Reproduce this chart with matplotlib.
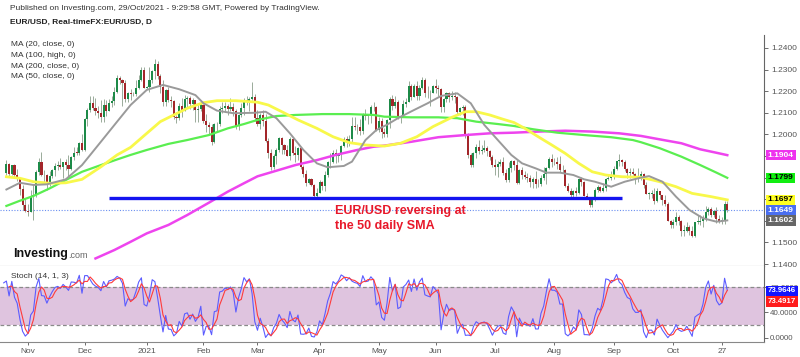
import numpy as np
import pandas as pd
import matplotlib
matplotlib.use("Agg")
import matplotlib.pyplot as plt
from matplotlib.transforms import blended_transform_factory

plt.rcParams['font.family'] = ['Liberation Sans', 'DejaVu Sans']

# daily EUR/USD bars, first bar 21 Oct 2020, one row per week
first_day = "2020-10-21"
first_open = 1.1820
closes = [
    1.1861, 1.1816, 1.1860,
    1.1812, 1.1794, 1.1746, 1.1674, 1.1646,
    1.1640, 1.1715, 1.1720, 1.1826, 1.1873,
    1.1814, 1.1812, 1.1776, 1.1808, 1.1834,
    1.1855, 1.1860, 1.1850, 1.1870, 1.1857,
    1.1840, 1.1895, 1.1916, 1.1915, 1.1962,
    1.1927, 1.2070, 1.2115, 1.2145, 1.2120,
    1.2107, 1.2100, 1.2080, 1.2135, 1.2110,
    1.2147, 1.2153, 1.2196, 1.2262, 1.2252,
    1.2240, 1.2165, 1.2190, 1.2185, 1.2188,
    1.2215, 1.2250, 1.2298, 1.2215, 1.2218,
    1.2250, 1.2295, 1.2324, 1.2269, 1.2220,
    1.2150, 1.2207, 1.2160, 1.2155, 1.2080,
    1.2075, 1.2130, 1.2107, 1.2165, 1.2170,
    1.2140, 1.2160, 1.2112, 1.2118, 1.2137,
    1.2060, 1.2042, 1.2035, 1.1963, 1.2047,
    1.2050, 1.2119, 1.2120, 1.2131, 1.2118,
    1.2126, 1.2107, 1.2040, 1.2090, 1.2120,
    1.2158, 1.2153, 1.2165, 1.2173, 1.2078,
    1.2048, 1.2090, 1.2060, 1.1968, 1.1915,
    1.1847, 1.1900, 1.1928, 1.1985, 1.1950,
    1.1930, 1.1900, 1.1980, 1.1914, 1.1905,
    1.1935, 1.1850, 1.1815, 1.1775, 1.1795,
    1.1765, 1.1715, 1.1730, 1.1780, 1.1763,
    1.1812, 1.1870, 1.1873, 1.1915, 1.1900,
    1.1910, 1.1947, 1.1980, 1.1965, 1.1980,
    1.2040, 1.2035, 1.2032, 1.2015, 1.2094,
    1.2085, 1.2090, 1.2125, 1.2125, 1.2020,
    1.2060, 1.2010, 1.2003, 1.2065, 1.2163,
    1.2130, 1.2150, 1.2075, 1.2080, 1.2142,
    1.2150, 1.2222, 1.2175, 1.2226, 1.2180,
    1.2215, 1.2250, 1.2190, 1.2193, 1.2190,
    1.2225, 1.2215, 1.2210, 1.2125, 1.2165,
    1.2190, 1.2174, 1.2178, 1.2175, 1.2105,
    1.2120, 1.2125, 1.1995, 1.1905, 1.1860,
    1.1915, 1.1940, 1.1925, 1.1930, 1.1935,
    1.1925, 1.1895, 1.1860, 1.1850, 1.1865,
    1.1870, 1.1820, 1.1790, 1.1845, 1.1875,
    1.1860, 1.1775, 1.1835, 1.1810, 1.1805,
    1.1800, 1.1780, 1.1795, 1.1770, 1.1770,
    1.1800, 1.1815, 1.1845, 1.1885, 1.1870,
    1.1870, 1.1865, 1.1835, 1.1835, 1.1760,
    1.1740, 1.1720, 1.1740, 1.1730, 1.1795,
    1.1780, 1.1715, 1.1710, 1.1675, 1.1700,
    1.1745, 1.1755, 1.1740, 1.1750, 1.1795,
    1.1798, 1.1808, 1.1838, 1.1875, 1.1880,
    1.1870, 1.1840, 1.1820, 1.1825, 1.1815,
    1.1805, 1.1805, 1.1815, 1.1765, 1.1725,
    1.1725, 1.1725, 1.1690, 1.1740, 1.1720,
    1.1695, 1.1680, 1.1600, 1.1580, 1.1595,
    1.1620, 1.1597, 1.1555, 1.1555, 1.1570,
    1.1553, 1.1530, 1.1595, 1.1595, 1.1600,
    1.1610, 1.1640, 1.1655, 1.1625, 1.1645,
    1.1610, 1.1600, 1.1605, 1.1680, 1.1649,
]
highs = [
    1.1881, 1.1869, 1.1860,
    1.1861, 1.1838, 1.1799, 1.1768, 1.1707,
    1.1678, 1.1745, 1.1770, 1.1835, 1.1892,
    1.1920, 1.1837, 1.1815, 1.1830, 1.1840,
    1.1868, 1.1875, 1.1890, 1.1870, 1.1887,
    1.1905, 1.1902, 1.1940, 1.1942, 1.1965,
    1.2004, 1.2076, 1.2121, 1.2176, 1.2177,
    1.2168, 1.2133, 1.2161, 1.2162, 1.2160,
    1.2162, 1.2178, 1.2219, 1.2273, 1.2271,
    1.2258, 1.2251, 1.2196, 1.2210, 1.2198,
    1.2250, 1.2276, 1.2310, 1.2310, 1.2225,
    1.2310, 1.2298, 1.2349, 1.2338, 1.2279,
    1.2251, 1.2209, 1.2221, 1.2179, 1.2159,
    1.2090, 1.2145, 1.2170, 1.2183, 1.2176,
    1.2180, 1.2169, 1.2159, 1.2140, 1.2155,
    1.2140, 1.2094, 1.2057, 1.2048, 1.2051,
    1.2057, 1.2130, 1.2150, 1.2149, 1.2143,
    1.2169, 1.2144, 1.2118, 1.2096, 1.2145,
    1.2169, 1.2180, 1.2171, 1.2243, 1.2185,
    1.2114, 1.2097, 1.2114, 1.2095, 1.1985,
    1.1932, 1.1909, 1.1936, 1.1990, 1.1988,
    1.1955, 1.1951, 1.1990, 1.1990, 1.1945,
    1.1942, 1.1935, 1.1858, 1.1836, 1.1800,
    1.1799, 1.1769, 1.1750, 1.1788, 1.1785,
    1.1830, 1.1876, 1.1915, 1.1928, 1.1933,
    1.1916, 1.1949, 1.1990, 1.1994, 1.1995,
    1.2080, 1.2079, 1.2048, 1.2070, 1.2100,
    1.2116, 1.2096, 1.2135, 1.2150, 1.2130,
    1.2080, 1.2077, 1.2030, 1.2070, 1.2172,
    1.2181, 1.2178, 1.2160, 1.2090, 1.2160,
    1.2167, 1.2245, 1.2234, 1.2232, 1.2245,
    1.2230, 1.2266, 1.2260, 1.2225, 1.2206,
    1.2230, 1.2255, 1.2230, 1.2215, 1.2170,
    1.2195, 1.2195, 1.2200, 1.2195, 1.2180,
    1.2125, 1.2135, 1.2135, 1.2005, 1.1915,
    1.1920, 1.1955, 1.1975, 1.1950, 1.1975,
    1.1945, 1.1930, 1.1905, 1.1885, 1.1875,
    1.1885, 1.1895, 1.1840, 1.1870, 1.1880,
    1.1880, 1.1880, 1.1840, 1.1850, 1.1830,
    1.1820, 1.1810, 1.1805, 1.1830, 1.1795,
    1.1810, 1.1850, 1.1850, 1.1895, 1.1910,
    1.1890, 1.1895, 1.1900, 1.1860, 1.1840,
    1.1775, 1.1750, 1.1745, 1.1755, 1.1800,
    1.1805, 1.1785, 1.1730, 1.1710, 1.1705,
    1.1750, 1.1765, 1.1760, 1.1775, 1.1800,
    1.1810, 1.1830, 1.1855, 1.1870, 1.1910,
    1.1885, 1.1880, 1.1845, 1.1845, 1.1845,
    1.1820, 1.1845, 1.1830, 1.1820, 1.1780,
    1.1735, 1.1745, 1.1750, 1.1750, 1.1735,
    1.1715, 1.1720, 1.1685, 1.1605, 1.1610,
    1.1640, 1.1625, 1.1605, 1.1580, 1.1595,
    1.1580, 1.1575, 1.1595, 1.1625, 1.1625,
    1.1625, 1.1670, 1.1665, 1.1665, 1.1650,
    1.1665, 1.1625, 1.1620, 1.1690, 1.1690,
]
lows = [
    1.1812, 1.1802, 1.1811,
    1.1802, 1.1784, 1.1718, 1.1651, 1.1640,
    1.1622, 1.1640, 1.1603, 1.1711, 1.1810,
    1.1808, 1.1777, 1.1745, 1.1760, 1.1800,
    1.1808, 1.1837, 1.1839, 1.1800, 1.1835,
    1.1801, 1.1835, 1.1880, 1.1905, 1.1904,
    1.1925, 1.1922, 1.2039, 1.2105, 1.2112,
    1.2092, 1.2074, 1.2057, 1.2059, 1.2085,
    1.2117, 1.2126, 1.2137, 1.2190, 1.2232,
    1.2130, 1.2150, 1.2152, 1.2160, 1.2180,
    1.2178, 1.2210, 1.2245, 1.2213, 1.2210,
    1.2194, 1.2240, 1.2256, 1.2255, 1.2191,
    1.2130, 1.2132, 1.2152, 1.2126, 1.2072,
    1.2054, 1.2068, 1.2081, 1.2106, 1.2127,
    1.2117, 1.2115, 1.2058, 1.2059, 1.2110,
    1.2053, 1.2011, 1.2003, 1.1952, 1.1960,
    1.2012, 1.2040, 1.2099, 1.2103, 1.2090,
    1.2107, 1.2086, 1.2023, 1.2022, 1.2080,
    1.2089, 1.2137, 1.2110, 1.2157, 1.2062,
    1.2040, 1.2023, 1.2040, 1.1967, 1.1893,
    1.1835, 1.1838, 1.1865, 1.1920, 1.1910,
    1.1910, 1.1900, 1.1880, 1.1903, 1.1873,
    1.1880, 1.1840, 1.1805, 1.1760, 1.1770,
    1.1763, 1.1712, 1.1704, 1.1730, 1.1742,
    1.1740, 1.1805, 1.1846, 1.1868, 1.1868,
    1.1870, 1.1880, 1.1943, 1.1944, 1.1947,
    1.1960, 1.2020, 1.2000, 1.1995, 1.2003,
    1.2065, 1.2050, 1.2055, 1.2107, 1.2018,
    1.2010, 1.1985, 1.1987, 1.1990, 1.2030,
    1.2113, 1.2120, 1.2070, 1.2052, 1.2080,
    1.2127, 1.2150, 1.2160, 1.2180, 1.2160,
    1.2160, 1.2210, 1.2175, 1.2170, 1.2133,
    1.2190, 1.2190, 1.2180, 1.2105, 1.2105,
    1.2150, 1.2150, 1.2160, 1.2145, 1.2093,
    1.2090, 1.2092, 1.1985, 1.1890, 1.1847,
    1.1850, 1.1890, 1.1910, 1.1910, 1.1920,
    1.1900, 1.1880, 1.1850, 1.1810, 1.1805,
    1.1855, 1.1810, 1.1780, 1.1780, 1.1825,
    1.1835, 1.1772, 1.1772, 1.1795, 1.1795,
    1.1780, 1.1755, 1.1752, 1.1750, 1.1755,
    1.1760, 1.1790, 1.1770, 1.1840, 1.1850,
    1.1860, 1.1840, 1.1825, 1.1820, 1.1755,
    1.1735, 1.1705, 1.1705, 1.1715, 1.1725,
    1.1760, 1.1715, 1.1700, 1.1665, 1.1664,
    1.1690, 1.1735, 1.1735, 1.1735, 1.1740,
    1.1790, 1.1790, 1.1795, 1.1835, 1.1855,
    1.1855, 1.1830, 1.1800, 1.1800, 1.1810,
    1.1770, 1.1780, 1.1790, 1.1750, 1.1725,
    1.1700, 1.1705, 1.1680, 1.1685, 1.1700,
    1.1675, 1.1670, 1.1600, 1.1565, 1.1565,
    1.1580, 1.1580, 1.1530, 1.1530, 1.1550,
    1.1535, 1.1525, 1.1525, 1.1585, 1.1580,
    1.1570, 1.1600, 1.1625, 1.1620, 1.1620,
    1.1590, 1.1590, 1.1585, 1.1585, 1.1640,
]

# bars before the visible window, used only to warm up the stochastic
pre_closes = [1.1748, 1.1715, 1.1782, 1.1735, 1.1760, 1.1760, 1.1825,
              1.1814, 1.1745, 1.1746, 1.1705, 1.1717, 1.1770, 1.1820]
pre_highs = [1.1790, 1.1760, 1.1790, 1.1805, 1.1790, 1.1790, 1.1830,
             1.1830, 1.1820, 1.1770, 1.1760, 1.1730, 1.1780, 1.1840]
pre_lows = [1.1720, 1.1695, 1.1710, 1.1730, 1.1735, 1.1735, 1.1765,
            1.1800, 1.1735, 1.1725, 1.1690, 1.1690, 1.1705, 1.1760]

# moving averages (bar number, value)
ma20_bar = [0, 5, 10, 15, 22, 28, 35, 41, 46, 52, 58, 64, 70, 73, 78, 84, 92, 96, 100,
            105, 110, 115, 119, 125, 128, 133, 137, 141, 145, 151, 156, 161, 167, 172,
            177, 182, 187, 191, 196, 200, 205, 210, 214, 218, 224, 229, 235, 238, 243,
            248, 253, 258, 263, 267]
ma20_val = [1.1745, 1.1776, 1.1766, 1.1769, 1.1792, 1.1858, 1.1966, 1.2059, 1.2136,
            1.2206, 1.2229, 1.2209, 1.2182, 1.2144, 1.2110, 1.2098, 1.2100, 1.2105,
            1.2075, 1.2005, 1.1928, 1.1866, 1.1848, 1.1854, 1.1874, 1.1974, 1.2020,
            1.2045, 1.2075, 1.2113, 1.2144, 1.2178, 1.2190, 1.2144, 1.2044, 1.1974,
            1.1905, 1.1866, 1.1843, 1.1823, 1.1823, 1.1812, 1.1792, 1.1781, 1.1758,
            1.1781, 1.1800, 1.1807, 1.1781, 1.1712, 1.1650, 1.1612, 1.1596, 1.1602]
ma50_bar = [0, 5, 10, 16, 22, 28, 35, 41, 46, 52, 57, 62, 67, 73, 78, 85, 93, 97, 102,
            108, 115, 121, 127, 133, 140, 146, 152, 158, 165, 170, 174, 179, 184, 188,
            192, 197, 202, 207, 212, 217, 222, 228, 235, 242, 248, 254, 261, 267]
ma50_val = [1.1804, 1.1797, 1.1781, 1.1774, 1.1776, 1.1792, 1.1850, 1.1905, 1.1940,
            1.2005, 1.2059, 1.2090, 1.2121, 1.2147, 1.2156, 1.2156, 1.2149, 1.2136,
            1.2105, 1.2067, 1.2028, 1.1989, 1.1962, 1.1951, 1.1946, 1.1959, 1.1989,
            1.2036, 1.2079, 1.2105, 1.2105, 1.2090, 1.2070, 1.2055, 1.2028, 1.1989,
            1.1951, 1.1912, 1.1866, 1.1827, 1.1812, 1.1804, 1.1802, 1.1781, 1.1758,
            1.1727, 1.1712, 1.1697]
ma100_bar = [0, 5, 10, 16, 22, 28, 35, 41, 46, 52, 60, 67, 75, 82, 88, 93, 100, 107,
             117, 127, 136, 140, 150, 160, 167, 174, 182, 188, 195, 204, 214, 224, 232,
             235, 242, 250, 257, 263, 267]
ma100_val = [1.1669, 1.1693, 1.1715, 1.1750, 1.1789, 1.1827, 1.1858, 1.1884, 1.1905,
             1.1928, 1.1956, 1.1974, 1.1997, 1.2028, 1.2048, 1.2067, 1.2085, 1.2090,
             1.2094, 1.2094, 1.2090, 1.2082, 1.2079, 1.2079, 1.2075, 1.2059, 1.2048,
             1.2039, 1.2024, 1.2008, 1.1997, 1.1987, 1.1974, 1.1964, 1.1936, 1.1897,
             1.1858, 1.1823, 1.1799]
ma200_bar = [33, 40, 46, 52, 60, 67, 75, 82, 88, 93, 100, 107, 115, 122, 130, 136, 140,
             150, 160, 170, 179, 188, 197, 207, 217, 227, 235, 242, 250, 257, 263, 267]
ma200_val = [1.1426, 1.1465, 1.1503, 1.1542, 1.1581, 1.1627, 1.1684, 1.1735, 1.1774,
             1.1806, 1.1832, 1.1858, 1.1881, 1.1905, 1.1928, 1.1943, 1.1948, 1.1966,
             1.1987, 1.1997, 1.2005, 1.2008, 1.2013, 1.2017, 1.2013, 1.2005, 1.1993,
             1.1977, 1.1959, 1.1931, 1.1915, 1.1904]

support_level = 1.1705
support_from = "2020-12-14"
support_to = "2021-09-06"
last_price = 1.1649

ma_labels = ["1.1904", "1.1799", "1.1697", "1.1649", "1.1602"]
stoch_labels = ["73.9646", "73.4917"]

month_days = ["2020-11-02", "2020-12-01", "2021-01-01", "2021-02-01", "2021-03-01",
              "2021-04-01", "2021-05-03", "2021-06-01", "2021-07-01", "2021-08-02",
              "2021-09-01", "2021-10-01", "2021-10-27"]
month_names = ["Nov", "Dec", "2021", "Feb", "Mar", "Apr", "May", "Jun", "Jul", "Aug",
               "Sep", "Oct", "27"]


def main():
    c = np.array(closes)
    h = np.array(highs)
    l = np.array(lows)
    o = np.r_[first_open, c[:-1]]
    h = np.maximum(h, np.maximum(o, c))
    l = np.minimum(l, np.minimum(o, c))
    dates = pd.bdate_range(first_day, periods=len(c))
    idx = np.arange(len(c))

    def bar_of(d):
        return dates.get_loc(pd.Timestamp(d))

    # stochastic 14,1,3
    ca = np.r_[pre_closes, c]
    ha = np.r_[pre_highs, h]
    la = np.r_[pre_lows, l]
    npre = len(pre_closes)
    k = []
    for j in range(13, len(ca)):
        hh = ha[j - 13:j + 1].max()
        ll = la[j - 13:j + 1].min()
        k.append(100 * (ca[j] - ll) / (hh - ll))
    k = pd.Series(k, index=np.arange(13, len(ca)) - npre)
    d = k.rolling(3).mean()

    fig = plt.figure(figsize=(8, 3.57), dpi=100)
    ax = fig.add_axes([0, 91 / 357, 764 / 800, 231 / 357])
    ax2 = fig.add_axes([0, 15 / 357, 764 / 800, 76 / 357], sharex=ax)

    # candles
    up = c >= o
    ax.vlines(idx, l, h, color='#9aab9a', lw=0.7, zorder=2)
    body = np.maximum(np.abs(c - o), 0.0002)
    ax.bar(idx[up], body[up], bottom=np.minimum(o, c)[up], width=0.75,
           color='#1d8a48', lw=0, zorder=2.2)
    ax.bar(idx[~up], body[~up], bottom=np.minimum(o, c)[~up], width=0.75,
           color='#a3262a', lw=0, zorder=2.2)

    # moving averages
    ax.plot(ma200_bar, ma200_val, color='#ee44ee', lw=1.8, zorder=3)
    ax.plot(ma100_bar, ma100_val, color='#5aee50', lw=1.6, zorder=3)
    ax.plot(ma50_bar, ma50_val, color='#f8f84a', lw=2.0, zorder=3)
    ax.plot(ma20_bar, ma20_val, color='#9a9a9a', lw=1.4, zorder=3)

    ax.hlines(support_level, bar_of(support_from), bar_of(support_to),
              color='#1414f0', lw=2.4, zorder=4)
    ax.axhline(last_price, color='#6a8ff0', lw=0.8, ls=(0, (1, 1.5)), zorder=1)

    ax.text(121.7, 1.1672, "EUR/USD reversing at\nthe 50 daily SMA", color='#e8182a',
            fontsize=9, fontweight='bold', va='top', ha='left', linespacing=1.3, zorder=5)

    ax.set_xlim(-2.37, 280.6)
    ax.set_ylim(1.1391, 1.2460)
    ax.yaxis.tick_right()
    yt = np.round(np.arange(1.14, 1.2401, 0.01), 2)
    ax.set_yticks(yt)
    # labels under the price boxes are hidden, as on the chart
    covered = [round(float(v), 2) for v in ma_labels]
    ax.set_yticklabels(["" if v in covered else f"{v:.4f}" for v in yt])
    ax.tick_params(axis='y', labelsize=6, colors='#555555', length=3, pad=2, width=0.6)
    ax.tick_params(axis='x', bottom=False, labelbottom=False)
    for s in ['top', 'left']:
        ax.spines[s].set_visible(False)
    ax.spines['right'].set_color('#666666')
    ax.spines['bottom'].set_color('#888888')
    ax.spines['right'].set_linewidth(0.8)
    ax.spines['bottom'].set_linewidth(0.8)

    # price boxes on the right axis
    tr = blended_transform_factory(ax.transAxes, ax.transData)
    box_bg = ['#ee33ee', '#11ee11', '#ffff22', '#4a6ff0', '#666666']
    box_fg = ['white', 'black', 'black', 'white', 'white']
    for lab, bg, fg in zip(ma_labels, box_bg, box_fg):
        ax.annotate(lab, xy=(1, float(lab)), xycoords=tr, xytext=(2.8, 0),
                    textcoords='offset points', ha='left', va='center', fontsize=6,
                    fontweight='bold', color=fg, annotation_clip=False, zorder=10,
                    bbox=dict(boxstyle='square,pad=0.22', fc=bg, ec='none'))

    # stochastic panel
    ax2.axhspan(20, 80, color='#dfc4df', lw=0, zorder=0)
    for lv in (20, 80):
        ax2.axhline(lv, color='#8a8a8a', lw=0.9, ls=(0, (3, 2)), zorder=1)
    ax2.plot(k.index, k.values, color='#5c5cff', lw=0.8, zorder=3)
    ax2.plot(d.index, d.values, color='#ff3b3b', lw=0.8, zorder=3)
    ax2.set_ylim(-6.8, 113.3)
    ax2.yaxis.tick_right()
    ax2.set_yticks([0, 40, 80])
    ax2.set_yticklabels(["0.0000", "40.0000", "80.0000"])
    ax2.tick_params(axis='y', labelsize=5.7, colors='#555555', length=3, pad=1.5, width=0.6)
    ax2.set_xticks([bar_of(m) for m in month_days])
    ax2.set_xticklabels(month_names)
    ax2.tick_params(axis='x', labelsize=6, colors='#555555', length=2, pad=2, width=0.6)
    for s in ['top', 'left']:
        ax2.spines[s].set_visible(False)
    ax2.spines['right'].set_color('#666666')
    ax2.spines['bottom'].set_color('#888888')
    ax2.spines['right'].set_linewidth(0.8)
    ax2.spines['bottom'].set_linewidth(0.8)

    tr2 = blended_transform_factory(ax2.transAxes, ax2.transData)
    k_last = float(stoch_labels[0])
    ax2.annotate(stoch_labels[0], xy=(1, k_last), xycoords=tr2, xytext=(2.8, 0),
                 textcoords='offset points', ha='left', va='center', fontsize=5.7,
                 fontweight='bold', color='white', annotation_clip=False, zorder=10,
                 bbox=dict(boxstyle='square,pad=0.22', fc='#1414ff', ec='none'))
    ax2.annotate(stoch_labels[1], xy=(1, k_last - 16.7), xycoords=tr2, xytext=(2.8, 0),
                 textcoords='offset points', ha='left', va='center', fontsize=5.7,
                 fontweight='bold', color='white', annotation_clip=False, zorder=10,
                 bbox=dict(boxstyle='square,pad=0.22', fc='#ff1c1c', ec='none'))

    # header and legend texts
    def px(x, y):
        return x / 800, 1 - y / 357

    fig.text(*px(10, 9), "Published on Investing.com, 29/Oct/2021 - 9:29:58 GMT, Powered by TradingView.",
             fontsize=6, color='#333333', va='center')
    fig.text(*px(10, 22), "EUR/USD, Real-timeFX:EUR/USD, D", fontsize=6, fontweight='bold',
             color='#222222', va='center')
    for yy, t in zip([45, 55.5, 66, 76.5], ["MA (20, close, 0)", "MA (100, high, 0)",
                                           "MA (200, close, 0)", "MA (50, close, 0)"]):
        fig.text(*px(11, yy), t, fontsize=6, color='#333333', va='center')
    fig.text(*px(11, 277), "Stoch (14, 1, 3)", fontsize=6, color='#333333', va='center')

    logo = fig.text(*px(13, 257), "Investing", fontsize=9, fontweight='bold',
                    color='#111111', va='baseline')
    ax.annotate(".com", xy=(1, 0), xycoords=logo, xytext=(0.3, 0),
                textcoords='offset points', fontsize=6.5, color='#666666',
                va='bottom', ha='left', annotation_clip=False)

    fig.savefig("out.png", dpi=100)


if __name__ == "__main__":
    main()
